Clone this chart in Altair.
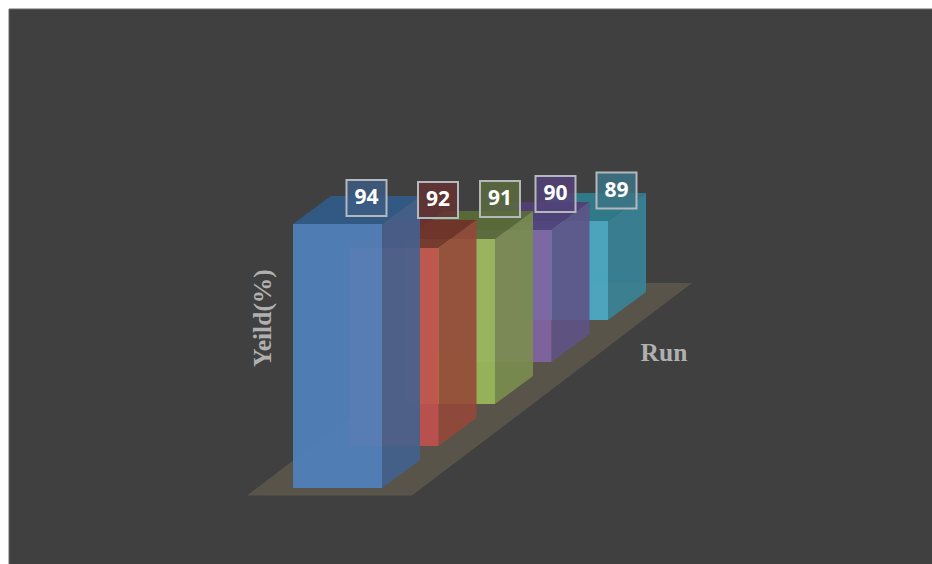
import altair as alt
import pandas as pd

# Yield per run, nearest run first
runs = ["Run 1", "Run 2", "Run 3", "Run 4", "Run 5"]
yields = [94, 92, 91, 90, 89]
front_colors = ["#4F81BD", "#C0504D", "#9BBB59", "#8064A2", "#4BACC6"]
side_colors = ["#44628F", "#95483A", "#7A8E4E", "#5F5386", "#388499"]
top_colors = ["#305C8C", "#72302A", "#5A6E34", "#523D78", "#2F8090"]
box_colors = ["#3C5C82", "#653232", "#5C6C40", "#54427A", "#3C7486"]

# Oblique projection of the 3D bars onto the page
BASE_YIELD = 86
UNIT = 33
BAR_W = 89
ORIGIN = (293, 488)
RUN_STEP = (56.5, -42)
DEPTH = (38, -28)

# Label boxes sit where they were placed by hand, one centre per run
label_cx = [366.5, 438, 500, 555.5, 616.5]
label_cy = [198, 200, 199, 194, 190.5]
BOX_W, BOX_H = 40, 36

X = alt.Scale(domain=[0, 932], range=[0, 932], nice=False, zero=False)
Y = alt.Scale(domain=[0, 564], range=[0, 564], nice=False, zero=False)


def ax(field, **kw):
    return alt.X(field, type="quantitative", scale=X, axis=None, **kw)


def ay(field, **kw):
    return alt.Y(field, type="quantitative", scale=Y, axis=None, **kw)


def vertical_face(rows, color, opacity):
    # Face with vertical edges: front and side of a bar
    return alt.Chart(pd.DataFrame(rows)).mark_area(
        color=color, opacity=opacity, orient="vertical", interpolate="linear"
    ).encode(x=ax("x"), y=ay("y0"), y2="y1")


def horizontal_face(rows, color, opacity):
    # Face with horizontal edges: bar tops and the floor
    return alt.Chart(pd.DataFrame(rows)).mark_area(
        color=color, opacity=opacity, orient="horizontal", interpolate="linear"
    ).encode(y=ay("y"), x=ax("x0"), x2="x1")


panel = alt.Chart(pd.DataFrame([{"x0": 9, "x1": 940, "y0": 9, "y1": 570}])).mark_rect(
    color="#404040", stroke="#6A6A6A", strokeWidth=1
).encode(x=ax("x0"), x2="x1", y=ay("y0"), y2="y1")

floor = horizontal_face(
    [{"y": 495.5, "x0": 247, "x1": 412}, {"y": 283, "x0": 527, "x1": 692}],
    "#58544A", 1,
)

layers = [panel, floor]
for i in reversed(range(len(yields))):
    left = ORIGIN[0] + i * RUN_STEP[0]
    bottom = ORIGIN[1] + i * RUN_STEP[1]
    top = bottom - (yields[i] - BASE_YIELD) * UNIT
    right = left + BAR_W
    layers.append(horizontal_face(
        [{"y": top, "x0": left, "x1": right},
         {"y": top + DEPTH[1], "x0": left + DEPTH[0], "x1": right + DEPTH[0]}],
        top_colors[i], 0.9,
    ))
    layers.append(vertical_face(
        [{"x": right, "y0": bottom, "y1": top},
         {"x": right + DEPTH[0], "y0": bottom + DEPTH[1], "y1": top + DEPTH[1]}],
        side_colors[i], 0.9,
    ))
    layers.append(vertical_face(
        [{"x": left, "y0": bottom, "y1": top},
         {"x": right, "y0": bottom, "y1": top}],
        front_colors[i], 0.92,
    ))

labels = pd.DataFrame({
    "run": runs,
    "yield": yields,
    "color": box_colors,
    "cx": label_cx,
    "cy": label_cy,
})
labels["x0"] = labels["cx"] - BOX_W / 2
labels["x1"] = labels["cx"] + BOX_W / 2
labels["y0"] = labels["cy"] - BOX_H / 2
labels["y1"] = labels["cy"] + BOX_H / 2

boxes = alt.Chart(labels).mark_rect(
    stroke="#B4B8BC", strokeWidth=2, fillOpacity=0.85
).encode(
    x=ax("x0"), x2="x1", y=ay("y0"), y2="y1",
    fill=alt.Fill("color:N", scale=None),
)
values = alt.Chart(labels).mark_text(
    font="Open Sans", fontWeight="bold", fontSize=21, color="#FFFFFF", baseline="middle"
).encode(x=ax("cx"), y=ay("cy"), text="yield:Q")

titles = pd.DataFrame([
    {"label": "Yeild(%)", "x": 263, "y": 318, "angle": 270},
    {"label": "Run", "x": 664, "y": 353, "angle": 0},
])
title_marks = [
    alt.Chart(titles.iloc[[k]]).mark_text(
        font="Liberation Serif", fontWeight="bold", fontSize=25.5, color="#B0B0B0",
        baseline="middle", angle=int(titles.iloc[k]["angle"]),
    ).encode(x=ax("x"), y=ay("y"), text="label:N")
    for k in range(len(titles))
]

chart = alt.layer(*layers, boxes, values, *title_marks).properties(
    width=932, height=564, padding=0, background="#FFFFFF",
    autosize=alt.AutoSizeParams(type="none"),
).configure_view(stroke=None)

chart.save("out.html", embed_options={"renderer": "svg", "actions": False})
